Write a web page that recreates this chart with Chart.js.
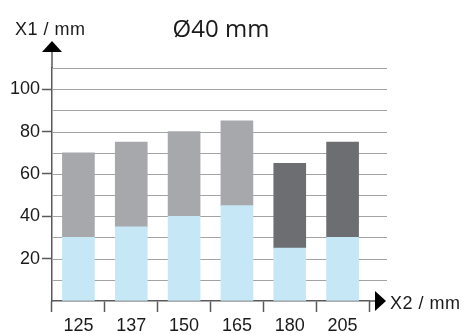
<!DOCTYPE html>
<html>
<head>
<meta charset="utf-8">
<script src="https://cdn.jsdelivr.net/npm/chart.js@4.4.1/dist/chart.umd.min.js"></script>
<style>
    html, body { margin: 0; padding: 0; background: #fff; }
    #wrap { width: 464px; height: 334px; }
</style>
</head>
<body>
<div id="wrap"><canvas id="chart" width="464" height="334"></canvas></div>
<script>
// Data (X1 in mm per X2 category)
const categories = ['125', '137', '150', '165', '180', '205'];
const baseValues = [30, 35, 40, 45, 25, 30];          // light blue part
const lightTopValues = [40, 40, 40, 40, null, null];  // light gray stacked part
const darkTopValues = [null, null, null, null, 40, 45]; // dark gray stacked part
const yTickLabels = [20, 40, 60, 80, 100];
const yMax = 110;

const titleText = 'Ø40 mm';
const yAxisLabel = 'X1 / mm';
const xAxisLabel = 'X2 / mm';

const FONT = "'Liberation Sans', Arial, sans-serif";
const AXIS = '#58595b';
const GRID = '#a3a3a3';

// grid lines run past the last category, axes get arrow heads, plus the texts
const decor = {
    id: 'decor',
    beforeDatasetsDraw(chart) {
        const { ctx, chartArea } = chart;
        const y = chart.scales.y;
        ctx.save();
        ctx.strokeStyle = GRID;
        ctx.lineWidth = 1;
        y.ticks.forEach(t => {
            if (t.value === 0) return;
            const py = Math.round(y.getPixelForValue(t.value)) + 0.5;
            ctx.beginPath();
            ctx.moveTo(chartArea.left, py);
            ctx.lineTo(chartArea.right + 18, py);
            ctx.stroke();
        });
        ctx.restore();
    },
    afterDraw(chart) {
        const { ctx, chartArea } = chart;
        const x0 = chartArea.left, y0 = chartArea.bottom;
        ctx.save();
        ctx.strokeStyle = AXIS;
        ctx.fillStyle = '#000';
        ctx.lineWidth = 1.5;
        // y axis extension + arrow
        ctx.beginPath();
        ctx.moveTo(x0, chartArea.top);
        ctx.lineTo(x0, chartArea.top - 17);
        ctx.stroke();
        ctx.beginPath();
        ctx.moveTo(x0 - 10, chartArea.top - 16);
        ctx.lineTo(x0 + 10, chartArea.top - 16);
        ctx.lineTo(x0, chartArea.top - 27);
        ctx.closePath();
        ctx.fill();
        // x axis extension + arrow
        ctx.beginPath();
        ctx.moveTo(chartArea.right, y0);
        ctx.lineTo(chartArea.right + 7, y0);
        ctx.stroke();
        ctx.beginPath();
        ctx.moveTo(chartArea.right + 6, y0 - 10);
        ctx.lineTo(chartArea.right + 6, y0 + 10);
        ctx.lineTo(chartArea.right + 17, y0);
        ctx.closePath();
        ctx.fill();
        // texts
        ctx.fillStyle = '#1a1a1a';
        ctx.textBaseline = 'alphabetic';
        ctx.font = '18px ' + FONT;
        ctx.letterSpacing = '0.5px';
        ctx.textAlign = 'left';
        ctx.fillText(yAxisLabel, 15, 35);
        ctx.fillText(xAxisLabel, chartArea.right + 21, y0 + 8);
        ctx.letterSpacing = '0px';
        ctx.font = "24px 'Open Sans', sans-serif";
        ctx.textAlign = 'center';
        ctx.fillText(titleText, 221, 37);
        ctx.restore();
    }
};

new Chart(document.getElementById('chart'), {
    type: 'bar',
    data: {
        labels: categories,
        datasets: [
            { data: baseValues, backgroundColor: '#c6e7f6' },
            { data: lightTopValues, backgroundColor: '#a7a8ab' },
            { data: darkTopValues, backgroundColor: '#6d6e71' }
        ]
    },
    options: {
        responsive: false,
        animation: false,
        events: [],
        layout: { padding: { left: 0, top: 68, right: 95, bottom: 0 } },
        datasets: { bar: { barThickness: 32, borderWidth: 0 } },
        plugins: {
            legend: { display: false },
            tooltip: { enabled: false }
        },
        scales: {
            x: {
                stacked: true,
                afterFit(scale) { scale.height = 33; },
                border: { display: true, color: AXIS, width: 1.5 },
                grid: {
                    offset: true,
                    drawOnChartArea: false,
                    drawTicks: true,
                    tickLength: 11,
                    tickColor: AXIS,
                    tickWidth: 1.5
                },
                ticks: {
                    color: '#1a1a1a',
                    padding: 3,
                    maxRotation: 0,
                    font: { family: FONT, size: 18 }
                }
            },
            y: {
                stacked: true,
                min: 0,
                max: yMax,
                afterFit(scale) { scale.width = 52; },
                border: { display: true, color: AXIS, width: 1.5 },
                grid: {
                    drawOnChartArea: false,
                    drawTicks: true,
                    tickLength: 10,
                    tickWidth: 1.5,
                    tickColor: ctx => yTickLabels.includes(ctx.tick && ctx.tick.value) ? AXIS : 'rgba(0,0,0,0)'
                },
                ticks: {
                    stepSize: 10,
                    autoSkip: false,
                    padding: 2,
                    color: '#1a1a1a',
                    font: { family: FONT, size: 18 },
                    callback: v => yTickLabels.includes(v) ? String(v) : ''
                }
            }
        }
    },
    plugins: [decor]
});
</script>
</body>
</html>
